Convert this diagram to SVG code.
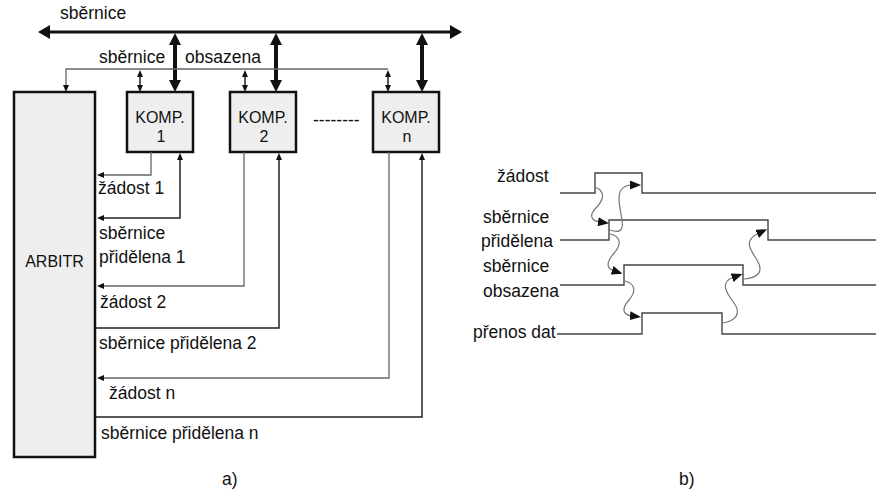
<svg xmlns="http://www.w3.org/2000/svg" width="876" height="492" viewBox="0 0 876 492">
  <style>
    text { font-family: "Liberation Sans", Arial, sans-serif; fill: #111; }
    .lbl { font-size: 17.5px; }
    .box { fill: #eeeeee; stroke: #111; stroke-width: 2.5; }
    .bus { stroke: #111; stroke-width: 3; fill: none; }
    .thick { stroke: #111; stroke-width: 4; fill: none; }
    .req { stroke: #666; stroke-width: 1.3; fill: none; }
    .gnt { stroke: #222; stroke-width: 1.5; fill: none; }
    .sig { stroke: #444; stroke-width: 1.4; fill: none; }
    .wave { stroke: #777; stroke-width: 1.2; fill: none; }
  </style>
  <defs>
    <marker id="mBus" viewBox="0 0 12 14" markerWidth="12" markerHeight="14" refX="2" refY="7" orient="auto-start-reverse" markerUnits="userSpaceOnUse">
      <path d="M0,0 L12,7 L0,14 z" fill="#111"/>
    </marker>
    <marker id="mThick" viewBox="0 0 12 12" markerWidth="12" markerHeight="12" refX="2" refY="6" orient="auto-start-reverse" markerUnits="userSpaceOnUse">
      <path d="M0,0 L12,6 L0,12 z" fill="#111"/>
    </marker>
    <marker id="mSmall" viewBox="0 0 7 6" markerWidth="7" markerHeight="6" refX="1" refY="3" orient="auto-start-reverse" markerUnits="userSpaceOnUse">
      <path d="M0,0 L7,3 L0,6 z" fill="#111"/>
    </marker>
    <marker id="mWave" viewBox="0 0 11 9" markerWidth="11" markerHeight="9" refX="2" refY="4.5" orient="auto" markerUnits="userSpaceOnUse">
      <path d="M0,0 L11,4.5 L0,9 z" fill="#111"/>
    </marker>
  </defs>

  <!-- a) bus arbitration block diagram -->
  <g id="bus">
    <line class="bus" x1="48" y1="32" x2="452" y2="32" marker-start="url(#mBus)" marker-end="url(#mBus)"/>
    <text class="lbl" x="60" y="19">sběrnice</text>
  </g>

  <g id="arbitr">
    <rect class="box" x="14" y="92" width="81" height="365"/>
    <text x="54.5" y="267" font-size="16" text-anchor="middle">ARBITR</text>
  </g>

  <g id="komp1">
    <rect class="box" x="127" y="92" width="66" height="60"/>
    <text x="160" y="123" font-size="16" text-anchor="middle">KOMP.</text>
    <text x="161" y="142" font-size="16" text-anchor="middle">1</text>
  </g>
  <g id="komp2">
    <rect class="box" x="230" y="92" width="66" height="60"/>
    <text x="263" y="123" font-size="16" text-anchor="middle">KOMP.</text>
    <text x="264" y="142" font-size="16" text-anchor="middle">2</text>
  </g>
  <g id="kompn">
    <rect class="box" x="373" y="92" width="66" height="60"/>
    <text x="406" y="123" font-size="16" text-anchor="middle">KOMP.</text>
    <text x="407" y="142" font-size="16" text-anchor="middle">n</text>
  </g>
  <text class="lbl" x="313" y="126">--------</text>

  <g id="connectors">
    <!-- data bus taps -->
    <line class="thick" x1="175" y1="43" x2="175" y2="82" marker-start="url(#mThick)" marker-end="url(#mThick)"/>
    <line class="thick" x1="276" y1="43" x2="276" y2="82" marker-start="url(#mThick)" marker-end="url(#mThick)"/>
    <line class="thick" x1="422" y1="43" x2="422" y2="82" marker-start="url(#mThick)" marker-end="url(#mThick)"/>

    <!-- bus busy line -->
    <path class="req" d="M388,69 H66 V86" marker-end="url(#mSmall)"/>
    <line class="gnt" x1="140" y1="76" x2="140" y2="86" marker-start="url(#mSmall)" marker-end="url(#mSmall)"/>
    <line class="gnt" x1="245" y1="76" x2="245" y2="86" marker-start="url(#mSmall)" marker-end="url(#mSmall)"/>
    <line class="gnt" x1="388" y1="76" x2="388" y2="86" marker-start="url(#mSmall)" marker-end="url(#mSmall)"/>

    <!-- requests -->
    <path class="req" d="M151,152 V175 H103" marker-end="url(#mSmall)"/>
    <path class="req" d="M244,152 V286 H103" marker-end="url(#mSmall)"/>
    <path class="req" d="M389,152 V378 H103" marker-end="url(#mSmall)"/>

    <!-- grants -->
    <path class="gnt" d="M103,218 H180 V159" marker-start="url(#mSmall)" marker-end="url(#mSmall)"/>
    <path class="gnt" d="M96,328 H279 V159" marker-end="url(#mSmall)"/>
    <path class="gnt" d="M96,417 H422 V159" marker-end="url(#mSmall)"/>
  </g>

  <g id="labels-a">
    <text class="lbl" x="99" y="63">sběrnice</text>
    <text class="lbl" x="185" y="63">obsazena</text>
    <text class="lbl" x="98" y="194">žádost 1</text>
    <text class="lbl" x="99" y="239">sběrnice</text>
    <text class="lbl" x="99" y="263">přidělena 1</text>
    <text class="lbl" x="100" y="308">žádost 2</text>
    <text class="lbl" x="99" y="349">sběrnice přidělena 2</text>
    <text class="lbl" x="109" y="399">žádost n</text>
    <text class="lbl" x="101" y="439">sběrnice přidělena n</text>
    <text class="lbl" x="222" y="485">a)</text>
  </g>

  <!-- b) handshake timing -->
  <g id="timing">
    <text class="lbl" x="497" y="182">žádost</text>
    <text class="lbl" x="483" y="223">sběrnice</text>
    <text class="lbl" x="481" y="247">přidělena</text>
    <text class="lbl" x="483" y="272">sběrnice</text>
    <text class="lbl" x="483" y="297">obsazena</text>
    <text class="lbl" x="473" y="338">přenos dat</text>

    <path class="sig" d="M560,193 H595 V173 H642 V193 H876"/>
    <path class="sig" d="M560,240 H609 V220 H768 V240 H876"/>
    <path class="sig" d="M560,285 H624 V265 H743 V285 H876"/>
    <path class="sig" d="M557,334 H642 V313 H722 V334 H876"/>

    <text class="lbl" x="679" y="485">b)</text>
  </g>

  <g id="causality">
    <path class="wave" d="M595,187 C607,192 603,201 595,209 C588,217 593,221 600,222" marker-end="url(#mWave)"/>
    <path class="wave" d="M610,230 C618,233 624,232 622,220 C620,208 617,196 621,190 C624,186 627,185 632,185" marker-end="url(#mWave)"/>
    <path class="wave" d="M610,234 C620,236 622,243 615,252 C607,261 605,268 614,271" marker-end="url(#mWave)"/>
    <path class="wave" d="M625,281 C636,284 636,292 629,300 C621,309 623,315 632,316" marker-end="url(#mWave)"/>
    <path class="wave" d="M723,323 C735,321 742,314 734,303 C725,291 720,282 734,277" marker-end="url(#mWave)"/>
    <path class="wave" d="M744,279 C756,278 765,273 757,260 C749,248 744,240 759,233" marker-end="url(#mWave)"/>
  </g>
</svg>
